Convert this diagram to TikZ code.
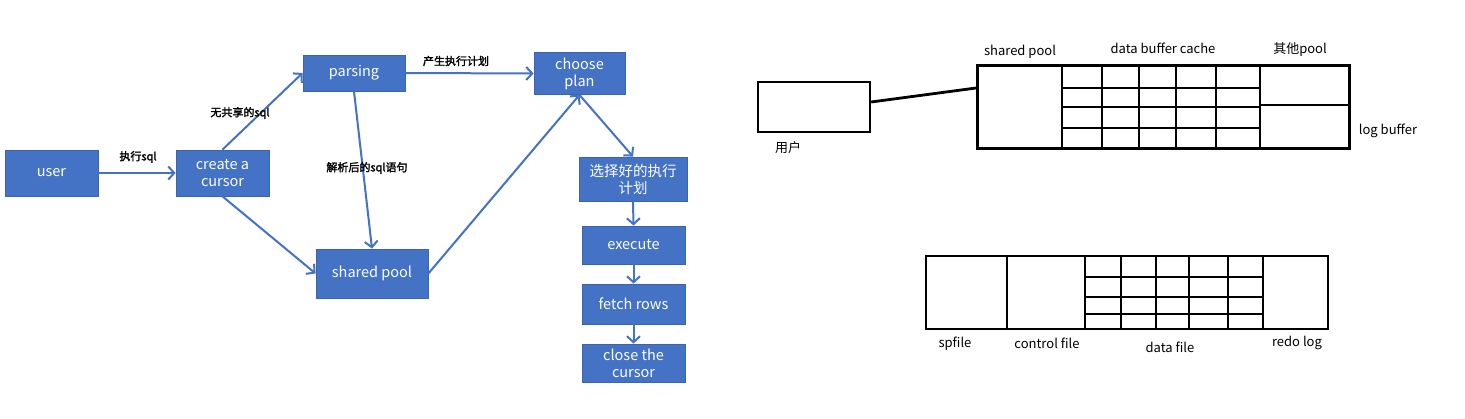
\documentclass[tikz,border=0pt]{standalone}
\usepackage{fontspec}
\setmainfont{Noto Sans CJK SC}
\newfontfamily\bcjk[FakeBold=2]{Noto Sans CJK SC}
\usetikzlibrary{arrows.meta,calc}
\definecolor{boxblue}{HTML}{4472C4}
\definecolor{boxedge}{HTML}{3A64AE}
\definecolor{arrblue}{HTML}{4472C4}
\tikzset{
  flowbox/.style={draw=boxedge, line width=0.8pt, fill=boxblue, text=white, inner sep=0pt,
    align=center, font=\fontsize{14.5}{17}\selectfont},
  flowarr/.style={draw=arrblue, line width=2pt, -{Straight Barb[length=6pt,width=13pt,line width=2pt]}},
  elabel/.style={font=\bcjk\fontsize{11}{13}\selectfont, text=black, inner sep=0pt},
  memline/.style={line width=2.8pt, draw=black},
  memlabel/.style={font=\fontsize{13}{15}\selectfont, text=black, inner sep=0pt},
}
\begin{document}
\begin{tikzpicture}[x=1pt,y=-1pt]
\useasboundingbox (0,0) rectangle (1465,419);
\fill[white] (0,0) rectangle (1465,419);
% ---------------- left flowchart ----------------
\node[flowbox, minimum width=93pt, minimum height=46pt] (user) at (51.5,173) {user};
\node[flowbox, minimum width=93pt, minimum height=46pt] (cursor) at (222.5,173) {create a\\cursor};
\node[flowbox, minimum width=102pt, minimum height=36pt] (parsing) at (354,73) {parsing};
\node[flowbox, minimum width=112pt, minimum height=49pt] (shared) at (372,273.5) {shared pool};
\node[flowbox, minimum width=91pt, minimum height=42pt] (choose) at (579.5,73.5) {choose\\plan};
\node[flowbox, minimum width=108pt, minimum height=44pt] (chosen) at (633,179) {选择好的执行\\计划};
\node[flowbox, minimum width=103pt, minimum height=38pt] (execute) at (633.5,245) {execute};
\node[flowbox, minimum width=103pt, minimum height=40pt] (fetch) at (633.5,304) {fetch rows};
\node[flowbox, minimum width=103pt, minimum height=38pt] (close) at (633.5,363) {close the\\cursor};

\draw[flowarr] (user.east) -- (cursor.west);
\draw[flowarr] (cursor.north) -- (parsing.west);
\draw[flowarr] (cursor.south) -- (shared.west);
\draw[flowarr] (parsing.south) -- (shared.north);
\draw[flowarr] (parsing.east) -- (choose.west);
\draw[flowarr] (shared.east) -- (choose.south);
\draw[flowarr] (choose.south) -- (chosen.north);
\draw[flowarr] (chosen.south) -- (execute.north);
\draw[flowarr] (execute.south) -- (fetch.north);
\draw[flowarr] (fetch.south) -- (close.north);

\node[elabel] (l1) at (138,157) {执行sql};
\node[elabel] (l2) at (240,113) {无共享的sql};
\node[elabel] (l3) at (367,168) {解析后的sql语句};
\node[elabel] (l4) at (456,61) {产生执行计划};

% ---------------- memory structure ----------------
\node[draw=black, line width=2.4pt, minimum width=112pt, minimum height=50pt, inner sep=0pt] (u) at (814,107) {};
\node[memlabel] (ulab) at (788,148) {用户};
\node[draw=black, line width=2.8pt, minimum width=372pt, minimum height=83pt, inner sep=0pt] (sga) at (1163.5,107) {};
\draw[memline] ([yshift=5pt]u.east) -- ([yshift=19pt]sga.west);
% grid of SGA
\foreach \xx in {1062,1102,1139,1176,1216,1260} \draw[memline] (\xx,65.5) -- (\xx,148.5);
\foreach \yy in {88,107,128} \draw[memline] (1062,\yy) -- (1260,\yy);
\draw[memline] (1260,105) -- (1349,105);
\node[memlabel] (t1) at (1020,52) {shared pool};
\node[memlabel] (t2) at (1163,48) {data buffer cache};
\node[memlabel] (t3) at (1300,50) {其他pool};
\node[memlabel] (t4) at (1388,131) {log buffer};

% ---------------- files ----------------
\node[draw=black, line width=2.8pt, minimum width=402pt, minimum height=73pt, inner sep=0pt] (files) at (1127,292.5) {};
\foreach \xx in {1007,1085,1121,1156,1189,1228,1263} \draw[memline] (\xx,256) -- (\xx,329);
\foreach \yy in {277,297,314} \draw[memline] (1085,\yy) -- (1263,\yy);
\node[memlabel] (f1) at (955,344) {spfile};
\node[memlabel] (f2) at (1047,343) {control file};
\node[memlabel] (f3) at (1170,347) {data file};
\node[memlabel] (f4) at (1297,343) {redo log};
\end{tikzpicture}
\end{document}
